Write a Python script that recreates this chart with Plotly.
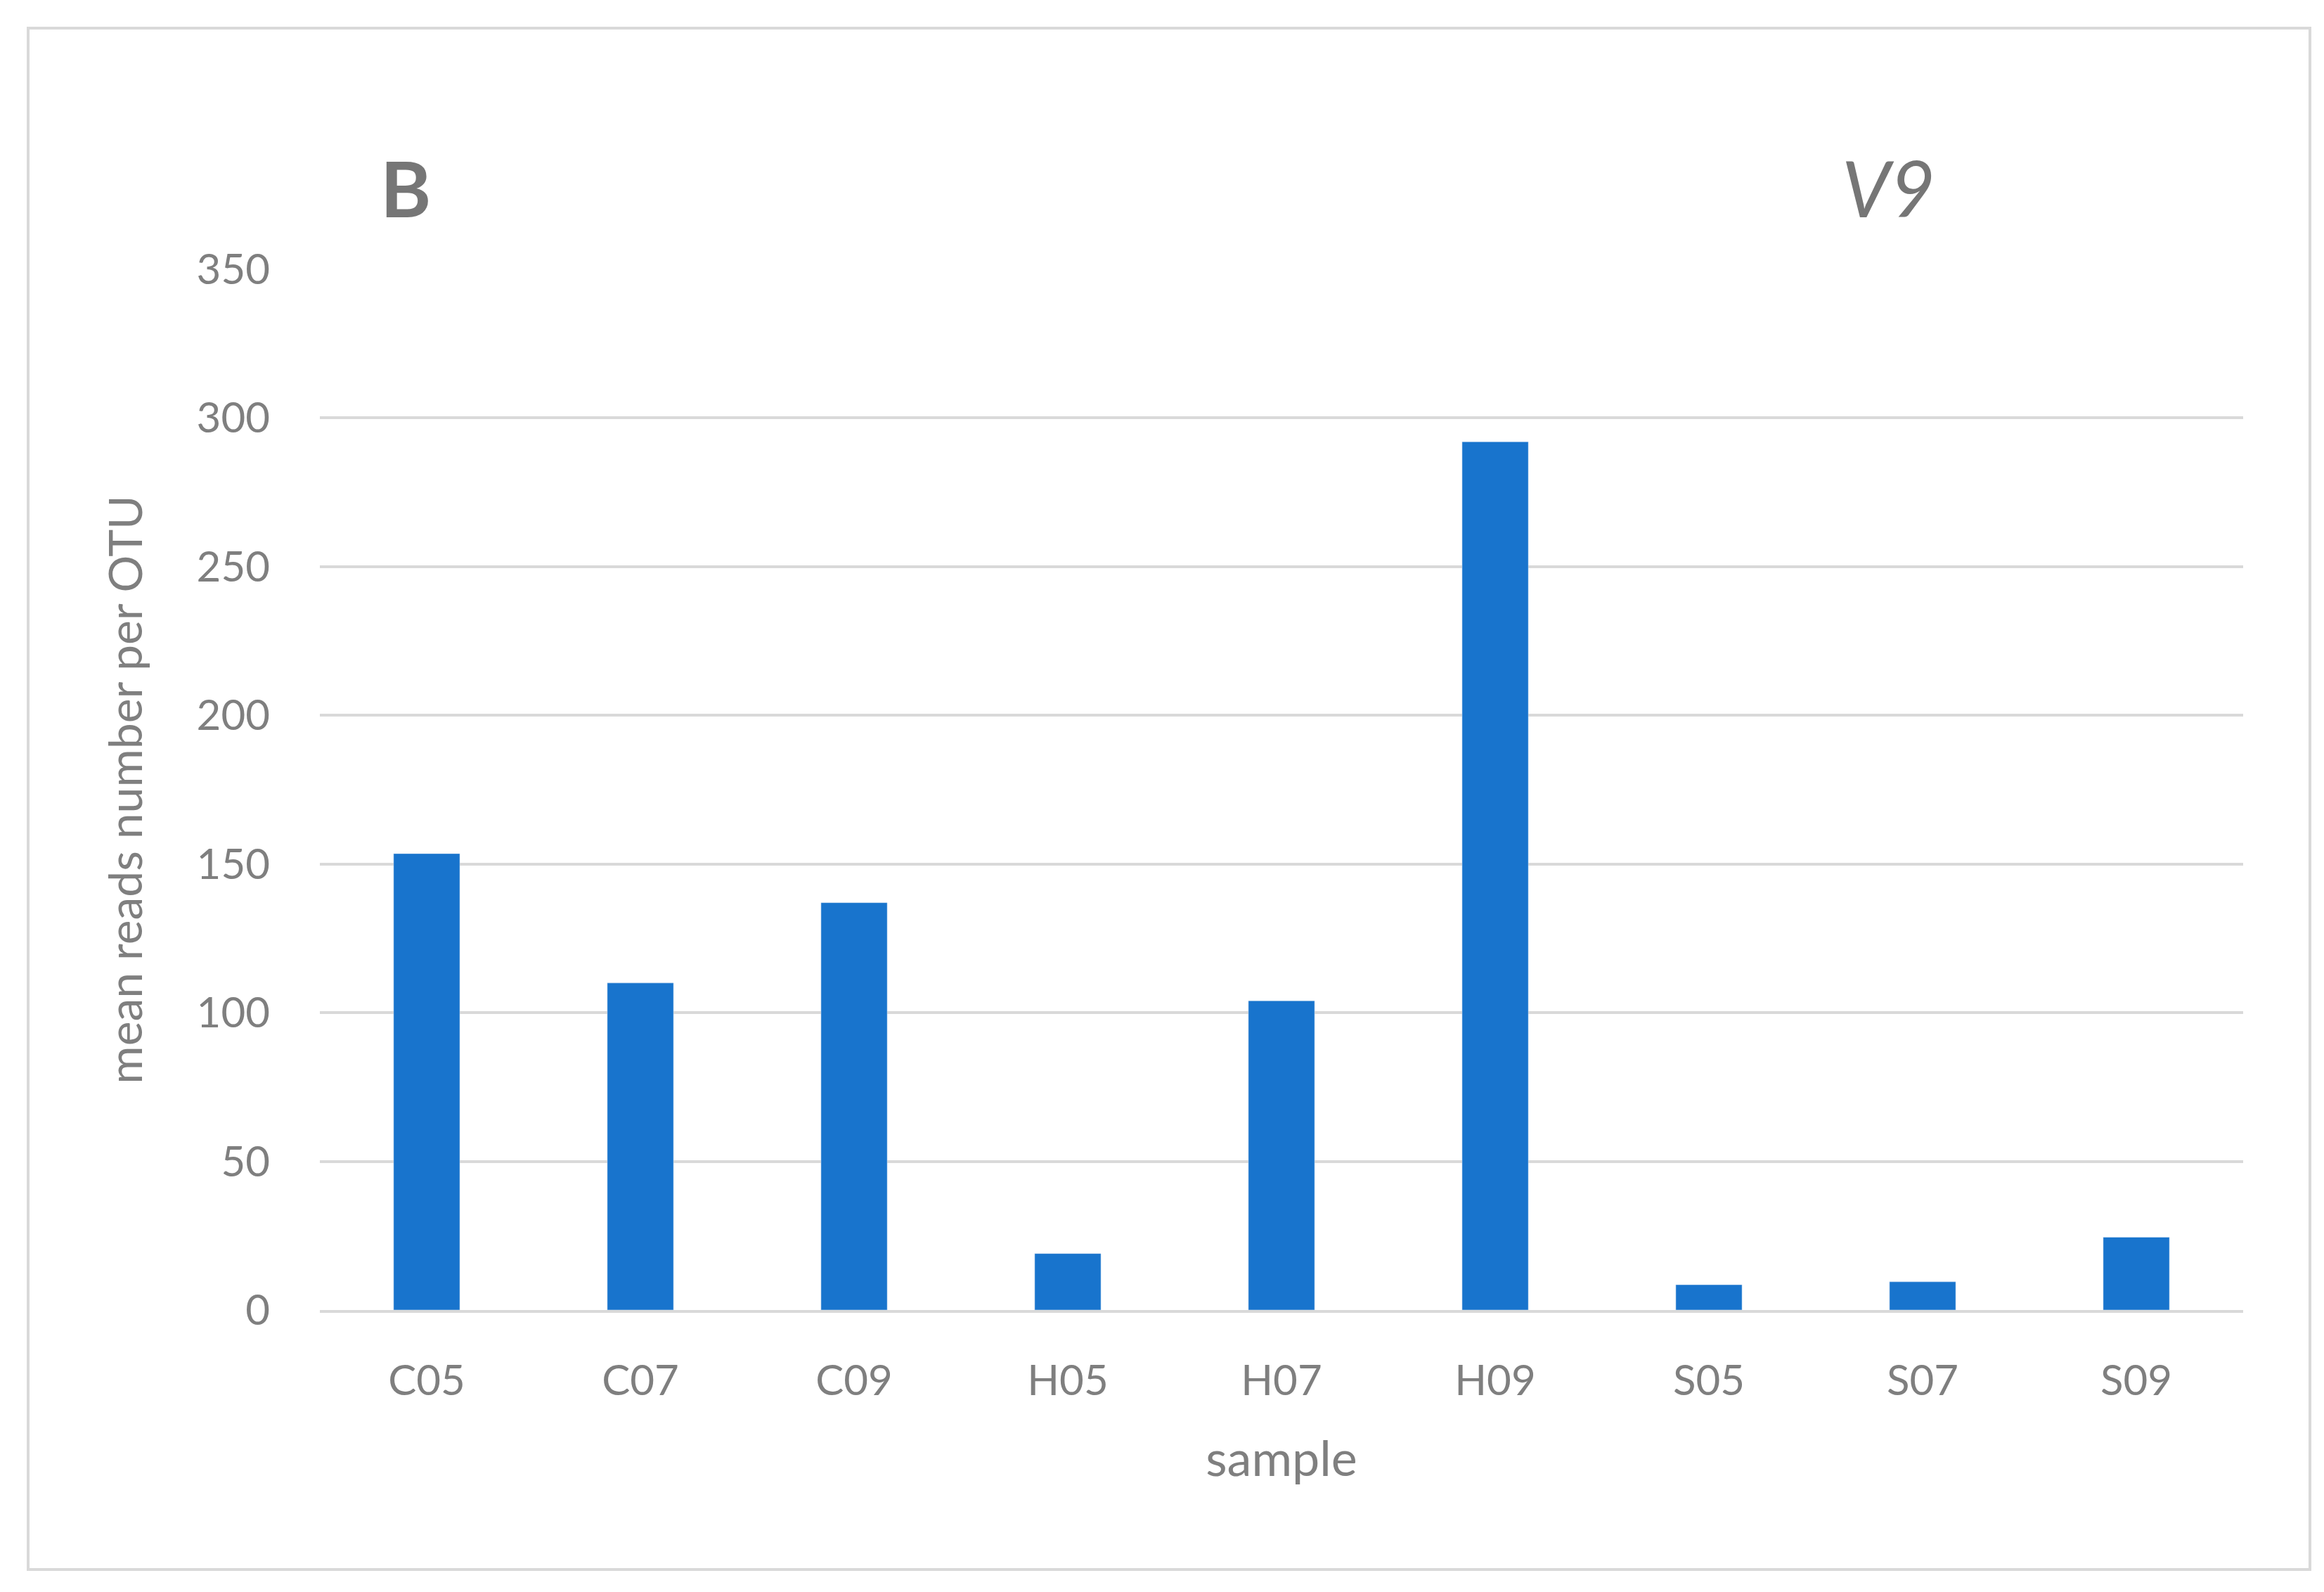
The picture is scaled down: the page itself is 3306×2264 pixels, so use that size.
import plotly.graph_objects as go

samples = ["C05", "C07", "C09", "H05", "H07", "H09", "S05", "S07", "S09"]
mean_reads = [153.5, 110, 137, 19, 104, 292, 8.5, 9.5, 24.5]
y_ticks = [0, 50, 100, 150, 200, 250, 300, 350]

W, H = 3306, 2264
grey = "#7f7f7f"
fnt = "Lato"

fig = go.Figure(go.Bar(x=samples, y=mean_reads, marker_color="#1874CD", width=0.31))

L, R, T, B = 447, 3306 - 3183, 375, 2264 - 1855
PW, PH = W - L - R, H - T - B
fig.update_layout(
    width=W, height=H, paper_bgcolor="white", plot_bgcolor="white",
    margin=dict(l=L, r=R, t=T, b=B), showlegend=False,
    font=dict(family=fnt, color=grey, size=60),
    xaxis=dict(showgrid=False, showline=True, linecolor="#d9d9d9", linewidth=4,
               ticks="", tickfont=dict(size=60, color=grey), ticklabelstandoff=45,
               title=dict(text="sample", font=dict(size=70, color=grey), standoff=55)),
    yaxis=dict(range=[0, 350], tickvals=y_ticks, showgrid=True, gridcolor="#d9d9d9",
               gridwidth=4, zeroline=False, ticks="", ticklabelstandoff=70,
               tickfont=dict(size=60, color=grey),
               title=dict(text="mean reads number per OTU", font=dict(size=66, color=grey), standoff=55)),
    shapes=[dict(type="rect", xref="paper", yref="paper",
                 x0=-(L - 32) / PW, x1=1 + (R - 28) / PW,
                 y0=-(B - 40) / PH, y1=1 + (T - 32) / PH,
                 line=dict(color="#d9d9d9", width=4))],
    annotations=[
        dict(text="<b>B</b>", x=(531 - L) / PW, y=(H - B - 190) / PH, xref="paper", yref="paper",
             showarrow=False, font=dict(size=110, color="#767676", family=fnt)),
        dict(text="<i>V9</i>", x=(2747 - L) / PW, y=(H - B - 190) / PH, xref="paper", yref="paper",
             showarrow=False, font=dict(size=110, color="#767676", family=fnt)),
    ],
)
fig.write_html("out.html")
